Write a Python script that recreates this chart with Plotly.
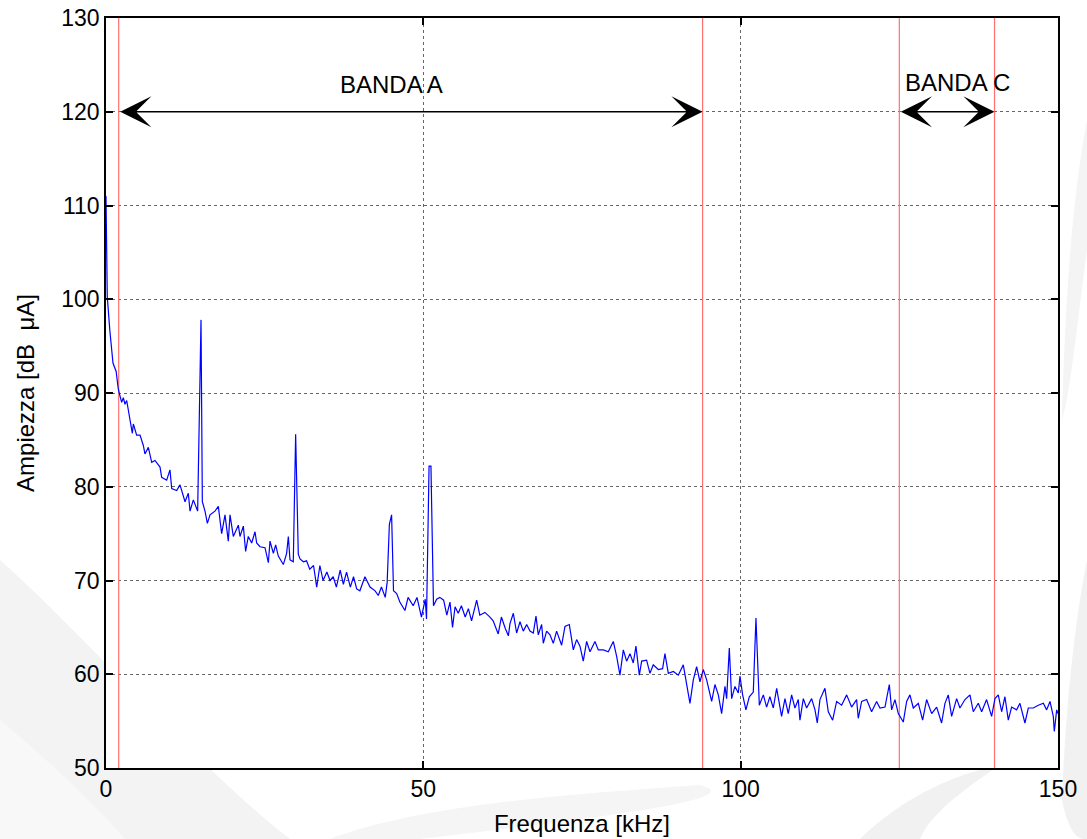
import plotly.graph_objects as go

# Current spectrum: frequency [kHz] and amplitude [dB uA]
freq = [
    0.0, 0.1, 0.2, 0.6, 1.1, 1.6, 1.8, 1.94, 2.2, 2.47, 2.73, 2.99, 3.26, 3.78,
    4.15, 4.31, 4.83, 5.36, 5.88, 6.14, 6.67, 7.2, 7.72, 8.51, 8.77, 9.56,
    10.08, 10.35, 11.13, 11.66, 12.45, 12.97, 13.24, 13.76, 14.44, 14.97,
    15.18, 15.6, 15.97, 16.39, 17.17, 17.7, 18.22, 18.75, 19.27, 19.54, 20.06,
    20.85, 21.11, 21.64, 22.0, 22.42, 22.95, 23.48, 23.74, 24.26, 25.05, 25.58,
    25.84, 26.37, 26.73, 27.15, 27.94, 28.46, 28.73, 28.99, 29.51, 29.88, 30.3,
    30.57, 31.1, 31.6, 32.1, 32.7, 33.2, 33.7, 34.2, 34.8, 35.3, 35.8, 36.3,
    36.9, 37.4, 37.9, 38.5, 39.0, 39.5, 40.0, 40.8, 41.6, 42.4, 42.9, 43.4,
    44.0, 44.3, 44.65, 45.0, 45.3, 45.8, 46.3, 47.1, 47.6, 48.4, 49.0, 49.7,
    50.3, 50.5, 50.9, 51.2, 51.6, 52.1, 52.6, 53.2, 53.7, 54.2, 54.6, 55.0,
    55.5, 56.0, 56.6, 57.1, 57.6, 58.4, 58.9, 59.7, 60.5, 61.0, 61.8, 62.3,
    62.9, 63.4, 63.65, 64.18, 64.7, 65.23, 65.75, 66.28, 66.8, 67.33, 67.75,
    68.11, 68.64, 68.9, 69.43, 69.95, 70.48, 71.0, 71.79, 72.32, 73.0, 73.63,
    74.15, 74.68, 75.2, 75.73, 76.26, 77.04, 77.57, 78.36, 79.14, 79.93, 80.46,
    80.98, 81.51, 82.03, 82.56, 83.08, 83.5, 84.03, 84.4, 85.18, 85.71, 86.23,
    87.02, 87.7, 88.07, 88.6, 89.39, 90.17, 90.96, 91.49, 92.01, 92.54, 93.06,
    93.59, 94.11, 94.64, 95.43, 95.95, 96.48, 97.0, 97.53, 97.79, 98.21, 98.58,
    99.1, 99.63, 99.89, 100.31, 100.83, 101.36, 101.99, 102.41, 102.94, 103.57,
    104.09, 104.6, 105.14, 105.67, 106.09, 106.45, 106.98, 107.5, 108.03,
    108.55, 109.08, 109.34, 109.87, 110.39, 111.18, 111.71, 112.07, 112.49,
    113.28, 113.81, 114.49, 115.12, 115.91, 116.7, 117.48, 118.27, 118.53,
    119.06, 119.85, 120.63, 121.42, 121.95, 122.74, 123.42, 123.79, 124.31,
    124.84, 125.62, 126.15, 126.67, 127.2, 127.99, 128.67, 129.3, 130.09,
    130.88, 131.66, 132.19, 132.71, 133.24, 134.03, 134.55, 135.34, 136.13,
    136.65, 137.44, 137.97, 138.75, 139.54, 140.07, 140.59, 141.12, 141.64,
    142.17, 142.69, 143.48, 144.0, 144.79, 145.32, 146.11, 146.9, 147.69,
    148.21, 148.74, 149.26, 149.42, 149.79, 150.0,
]
amp = [
    111.0, 104.0, 100.3, 96.7, 93.2, 92.3, 91.3, 90.4, 89.7, 89.0, 89.5, 88.8,
    89.2, 87.2, 85.7, 86.7, 85.5, 85.5, 84.4, 83.5, 84.2, 82.6, 82.8, 82.1,
    81.0, 80.7, 81.8, 79.8, 79.6, 80.2, 78.4, 79.3, 77.4, 78.6, 77.4, 97.8,
    78.4, 77.4, 76.1, 77.0, 77.4, 77.9, 75.0, 77.0, 74.2, 77.0, 74.7, 75.9,
    74.7, 75.8, 73.1, 74.7, 74.0, 75.2, 74.0, 73.6, 73.5, 71.9, 74.2, 72.9,
    73.8, 72.6, 71.7, 72.9, 74.7, 72.2, 72.0, 85.6, 72.8,
    72.3, 72.0, 72.1, 71.2, 71.6, 69.3, 71.6, 70.0, 70.9, 70.0, 70.4, 69.3,
    71.1, 69.6, 70.9, 69.3, 70.4, 69.1, 68.9, 70.4, 69.3, 68.9, 68.4, 69.3,
    68.2, 69.8, 76.0, 77.0, 68.9, 68.6, 67.7, 66.8, 68.2, 67.3, 68.2, 66.1,
    68.0, 65.9, 82.2, 82.2, 67.3, 68.0, 68.2, 67.9, 66.3, 67.7, 65.0, 67.2,
    66.5, 67.3, 66.1, 67.0, 65.7, 67.9, 66.3, 66.6, 66.1, 65.7, 64.3, 66.1,
    64.9, 64.1, 65.4, 66.5, 64.4, 65.6, 64.6, 65.3, 64.6, 64.4, 66.2,
    64.2, 65.3, 63.3, 64.6, 64.2, 63.3, 64.6, 63.1, 65.1, 65.3, 62.6,
    63.7, 63.0, 61.4, 63.5, 62.4, 63.5, 62.6, 62.6, 62.4, 63.5, 61.9,
    59.9, 62.6, 61.4, 62.2, 61.2, 63.0, 59.9, 61.4, 61.5, 60.1, 61.0,
    60.5, 60.6, 62.2, 60.1, 60.3, 59.9, 61.0, 59.0, 56.9, 59.4, 60.8,
    59.2, 60.5, 59.4, 57.1, 58.9, 57.8, 55.8, 58.7, 57.4, 62.8, 57.4,
    58.7, 58.0, 59.8, 57.8, 56.2, 57.6, 58.1, 66.0, 56.7, 57.8,
    56.5, 57.6, 56.4, 58.5, 56.7, 55.5, 57.4, 55.8, 57.8,
    56.4, 57.3, 55.1, 57.4, 56.4, 57.4, 56.2, 54.8, 57.3,
    58.5, 56.0, 55.1, 57.1, 56.7, 57.8, 56.5, 57.3, 55.3,
    57.1, 57.3, 56.0, 57.1, 56.4, 56.5, 58.9, 56.2, 57.3,
    55.8, 54.9, 57.1, 57.8, 56.4, 56.9, 55.1, 57.3, 55.8,
    56.5, 54.8, 56.9, 57.8, 55.5, 57.4, 56.4, 57.3, 57.8,
    56.0, 56.9, 56.0, 57.3, 55.5, 57.4, 57.8, 56.0, 57.6,
    55.1, 56.5, 56.2, 56.9, 54.8, 56.4, 56.4, 56.7, 56.9,
    56.2, 57.1, 55.5, 53.9, 56.2, 55.8,
]

# Band limits [kHz] and labels
band_edges = [2, 94, 125, 140]
band_a = (2, 94)
band_c = (125, 140)
band_labels = ["BANDA A", "BANDA C"]
band_label_pos = [(45.0, 122.9), (134.2, 123.1)]
arrow_level = 120

x_ticks = [0, 50, 100, 150]
y_ticks = [50, 60, 70, 80, 90, 100, 110, 120, 130]

FONT = "Liberation Sans, Arial, sans-serif"

# plot-area geometry in pixels (used for paper-referenced decorations)
L, R, T, B = 106, 1058, 18, 768


def px(xp, yp):
    return f"{(xp - L) / (R - L):.4f},{(B - yp) / (B - T):.4f}"


def bez(pts):
    """pts: pixel tuples; first is the start point, then groups of 3 for cubic segments."""
    s = "M " + px(*pts[0])
    rest = pts[1:]
    for k in range(0, len(rest), 3):
        s += " C " + " ".join(px(*p) for p in rest[k:k + 3])
    return s + " Z"


fig = go.Figure()

# band edge markers
vx, vy = [], []
for e in band_edges:
    vx += [e, e, None]
    vy += [50, 130, None]
fig.add_trace(go.Scatter(x=vx, y=vy, mode="lines",
                         line=dict(color="#ff7070", width=1.2),
                         hoverinfo="skip", showlegend=False))

fig.add_trace(go.Scatter(x=freq, y=amp, mode="lines",
                         line=dict(color="#0000ff", width=1.2),
                         showlegend=False))

annotations = []
for (a0, a1) in (band_a, band_c):
    annotations.append(dict(
        x=a1, y=arrow_level, ax=a0, ay=arrow_level,
        xref="x", yref="y", axref="x", ayref="y",
        text="", showarrow=True, arrowside="end+start",
        arrowhead=3, startarrowhead=3, arrowsize=4, startarrowsize=4,
        arrowwidth=1.3, arrowcolor="black", standoff=0, startstandoff=0))
for lab, (lx, ly) in zip(band_labels, band_label_pos):
    annotations.append(dict(x=lx, y=ly, xref="x", yref="y", text=lab,
                            showarrow=False, xanchor="center", yanchor="middle",
                            font=dict(family=FONT, size=24, color="black")))

# faint background swooshes
swooshes = [
    ([(0, 560), (90, 640), (200, 770), (290, 839), (240, 839), (120, 839), (0, 839),
      (0, 760), (0, 660), (0, 560)], "#f3f3f3"),
    ([(0, 720), (60, 770), (100, 810), (125, 839), (90, 839), (40, 839), (0, 839),
      (0, 800), (0, 760), (0, 720)], "#f8f8f8"),
    ([(330, 839), (420, 805), (560, 795), (700, 785), (760, 800), (560, 822), (420, 839),
      (400, 839), (360, 839), (330, 839)], "#f5f5f5"),
    ([(860, 839), (900, 800), (950, 775), (1000, 765), (960, 792), (930, 815), (920, 839),
      (900, 839), (880, 839), (860, 839)], "#f1f1f1"),
    ([(1087, 560), (1075, 620), (1066, 700), (1062, 800), (1070, 839), (1080, 839),
      (1087, 839), (1087, 760), (1087, 660), (1087, 560)], "#f1f1f1"),
    ([(1087, 120), (1072, 200), (1065, 300), (1062, 420), (1070, 400), (1080, 300),
      (1087, 250), (1087, 200), (1087, 160), (1087, 120)], "#f4f4f4"),
]
shapes = []
for pts, col in swooshes:
    shapes.append(dict(type="path", xref="paper", yref="paper", path=bez(pts),
                       fillcolor=col, line=dict(width=0), layer="below"))
shapes.append(dict(type="rect", xref="paper", yref="paper", x0=0, x1=1, y0=0, y1=1,
                   fillcolor="white", line=dict(width=0), layer="below"))

axis_common = dict(
    showline=True, linecolor="black", linewidth=1.5, mirror="ticks",
    ticks="inside", ticklen=7, tickwidth=1.5, tickcolor="black",
    showgrid=True, gridcolor="#666666", griddash="dot", gridwidth=1,
    zeroline=False, automargin=False,
    tickfont=dict(family=FONT, size=23, color="black"),
)

fig.update_layout(
    width=1087, height=839,
    margin=dict(l=L, r=1087 - R, t=T, b=839 - B),
    paper_bgcolor="white", plot_bgcolor="white",
    xaxis=dict(range=[0, 150], tickvals=x_ticks, ticktext=[str(v) for v in x_ticks],
               title=dict(text="Frequenza [kHz]", standoff=14,
                          font=dict(family=FONT, size=24, color="black")),
               **axis_common),
    yaxis=dict(range=[50, 130], tickvals=y_ticks, ticktext=[str(v) for v in y_ticks],
               title=dict(text="Ampiezza [dB  \u03bcA]", standoff=20,
                          font=dict(family=FONT, size=24, color="black")),
               **axis_common),
    annotations=annotations,
    shapes=shapes,
    showlegend=False,
)

fig.write_html("out.html")
